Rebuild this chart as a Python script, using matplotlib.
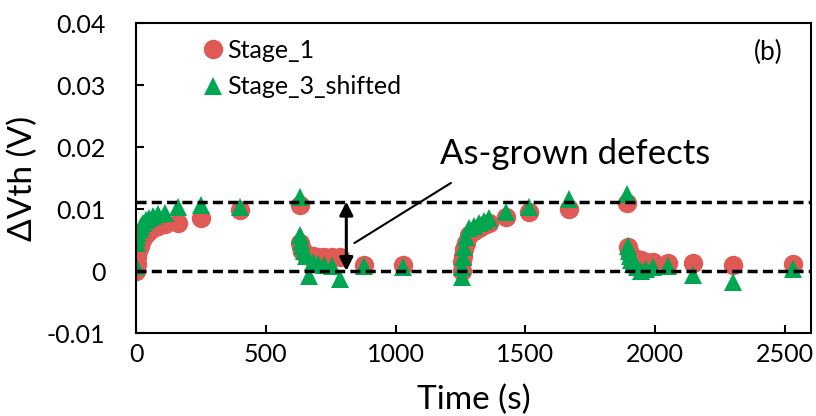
import matplotlib
matplotlib.use("Agg")
import matplotlib.pyplot as plt

plt.rcParams['font.family'] = ['Lato', 'DejaVu Sans']

# time points (s) shared by both series
time_s = [0, 2, 5, 9, 14, 20, 28, 38, 50, 65, 85, 110, 160, 250, 400, 630,
          633, 636, 640, 646, 655, 665, 680, 700, 725, 755, 785, 880, 1030,
          1255, 1257, 1260, 1264, 1270, 1282, 1300, 1320, 1340, 1360, 1425, 1512, 1666, 1893,
          1895, 1898, 1902, 1908, 1916, 1928, 1945, 1965, 1992, 2050, 2146, 2300, 2530]

stage_1 = [0.0000, 0.0012, 0.0022, 0.0032, 0.0040, 0.0047, 0.0054, 0.0060, 0.0065, 0.0070,
           0.0073, 0.0076, 0.0077, 0.0085, 0.0099, 0.0107,
           0.0045, 0.0038, 0.0033, 0.0029, 0.0027, 0.0025, 0.0024, 0.0023, 0.0022, 0.0022,
           0.0023, 0.0010, 0.0009,
           0.0000, 0.0015, 0.0025, 0.0035, 0.0045, 0.0058, 0.0065, 0.0070, 0.0075, 0.0078,
           0.0087, 0.0095, 0.0100, 0.0110,
           0.0039, 0.0033, 0.0028, 0.0024, 0.0021, 0.0019, 0.0017, 0.0015, 0.0014, 0.0013,
           0.0013, 0.0010, 0.0012]

stage_3_shifted = [0.0008, 0.0045, 0.0055, 0.0062, 0.0068, 0.0073, 0.0078, 0.0082, 0.0086, 0.0089,
                   0.0092, 0.0094, 0.0104, 0.0106, 0.0104, 0.0120,
                   0.0058, 0.0048, 0.0040, 0.0032, 0.0025, -0.0008, 0.0015, 0.0012, 0.0010, 0.0008,
                   -0.0013, 0.0008, 0.0006,
                   -0.0010, 0.0006, 0.0023, 0.0039, 0.0055, 0.0069, 0.0073, 0.0077, 0.0081, 0.0085,
                   0.0095, 0.0103, 0.0116, 0.0124,
                   0.0040, 0.0032, 0.0025, 0.0018, 0.0012, 0.0006, 0.0000, 0.0004, 0.0006, 0.0008,
                   -0.0006, -0.0017, 0.0004]

as_grown_level = 0.0112
arrow_time = 810

x_ticks = [0, 500, 1000, 1500, 2000, 2500]
y_ticks = [-0.01, 0, 0.01, 0.02, 0.03, 0.04]
y_tick_labels = ['-0.01', '0', '0.01', '0.02', '0.03', '0.04']

red = '#DF5A55'
green = '#00A650'

fig = plt.figure(figsize=(8.16, 4.16), dpi=100)
ax = fig.add_axes([0.1667, 0.1995, 0.8272, 0.7452])

ax.plot(time_s, stage_1, 'o', color=red, markersize=14, markeredgewidth=0, label='Stage_1')
ax.plot(time_s, stage_3_shifted, '^', color=green, markersize=13.5, markeredgewidth=0,
        label='Stage_3_shifted')

for level in [0, as_grown_level]:
    ax.axhline(level, color='black', lw=2.5, linestyle=(0, (2.9, 1.5)), zorder=3)

ax.annotate('', xy=(arrow_time, 0), xytext=(arrow_time, as_grown_level),
            arrowprops=dict(arrowstyle='<|-|>', color='black', lw=2.2, mutation_scale=20,
                            shrinkA=0, shrinkB=0), zorder=4)
ax.annotate('', xy=(841, 0.0045), xytext=(1213, 0.0142),
            arrowprops=dict(arrowstyle='-', color='black', lw=1.5, shrinkA=0, shrinkB=0))
ax.text(1690, 0.0188, 'As-grown defects', fontsize=25, ha='center', va='center')
ax.text(0.937, 0.906, '(b)', transform=ax.transAxes, fontsize=19, ha='center', va='center')

ax.set_xlim(0, 2600)
ax.set_ylim(-0.01, 0.04)
ax.set_xticks(x_ticks)
ax.set_yticks(y_ticks)
ax.set_yticklabels(y_tick_labels)
ax.tick_params(direction='in', length=6, width=1.5, labelsize=18)
ax.tick_params(axis='x', pad=7)
ax.tick_params(axis='y', pad=22)
for s in ax.spines.values():
    s.set_linewidth(1.5)

ax.set_xlabel('Time (s)', fontsize=24, labelpad=14)
ax.set_ylabel('ΔVth (V)', fontsize=24, labelpad=6)

ax.legend(loc='upper left', bbox_to_anchor=(0.08, 0.99), frameon=False, fontsize=18,
          handlelength=0.8, handletextpad=0.2, labelspacing=0.55, borderpad=0)

fig.savefig('out.png', dpi=100)
